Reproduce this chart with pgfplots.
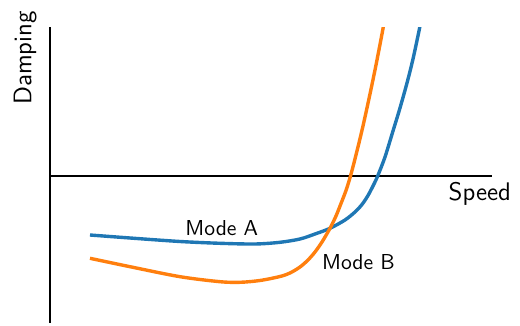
\documentclass[border=0pt]{standalone}
\usepackage{pgfplots}
\pgfplotsset{compat=1.18}
\definecolor{tabblue}{HTML}{1F77B4}
\definecolor{taborange}{HTML}{FF7F0E}
\begin{document}
\begin{tikzpicture}
\begin{axis}[
  axis lines=middle,
  axis line style={-, line width=0.94pt},
  inner axis line style={-},
  xmin=0, xmax=442, ymin=-147, ymax=148.5,
  x=0.4717pt, y=0.4717pt,
  ticks=none,
  clip mode=individual,
  font=\sffamily,
]
\addplot[tabblue, line width=1.6pt, smooth] coordinates {
(40,-59) (80,-62) (130,-65.5) (170,-67.3) (205,-68) (230,-66.3) (250,-63)
(265,-58) (280,-52.3) (295,-44) (305,-36) (312,-28.5) (318,-19.5) (323,-10)
(327.7,0) (335,19) (343,45) (350,68) (357,93) (363,117) (369,145) (372,160)
};
\addplot[taborange, line width=1.6pt, smooth] coordinates {
(40,-82.3) (80,-90.7) (130,-100.7) (170,-105.7) (190,-106.3) (210,-104.5)
(230,-100.5) (240,-97) (250,-91) (258,-84) (265,-76) (272,-66) (280,-52.3)
(286,-40) (291,-27.5) (296,-14.5) (300.5,0) (306,21) (313,50) (320,82)
(326,111) (332,142) (336,164)
};
\node[anchor=base west, inner sep=0pt, font=\sffamily\fontsize{10.2}{12}\selectfont] at (axis cs:135,-59.7) {Mode A};
\node[anchor=base west, inner sep=0pt, font=\sffamily\fontsize{10.2}{12}\selectfont] at (axis cs:271.7,-94) {Mode B};
\node[anchor=base west, inner sep=0pt, font=\sffamily\fontsize{12}{14}\selectfont] at (axis cs:398.3,-24.7) {Speed};
\node[anchor=base west, inner sep=0pt, rotate=90, font=\sffamily\fontsize{12}{14}\selectfont] at (axis cs:-18.7,71) {Damping};
\coordinate (bl) at (axis cs:-50,-150);
\coordinate (tr) at (axis cs:470,176);
\end{axis}
\useasboundingbox (bl) rectangle (tr);
\end{tikzpicture}
\end{document}
